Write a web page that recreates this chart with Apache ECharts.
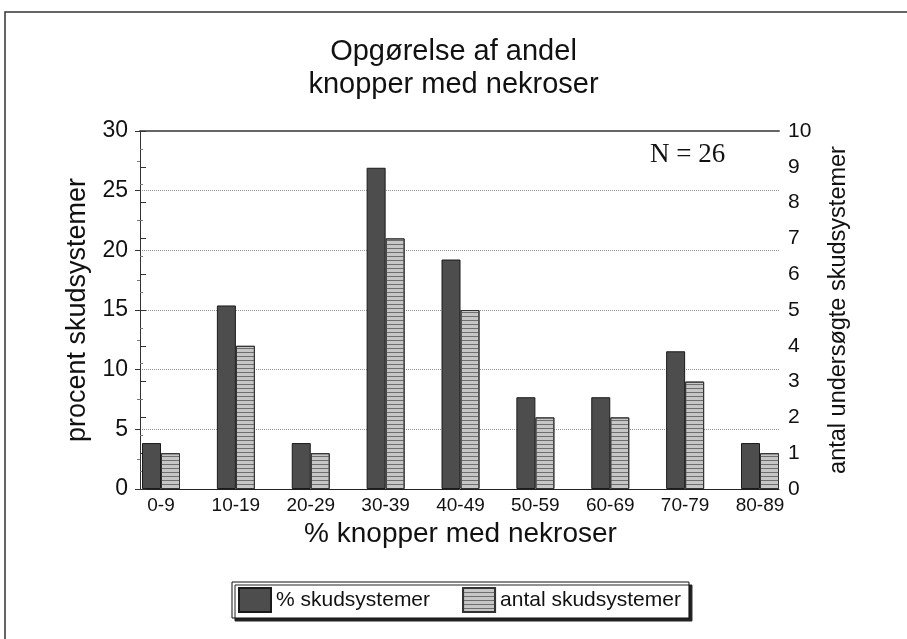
<!DOCTYPE html>
<html lang="da">
<head>
    <meta charset="UTF-8">
    <title>Opgørelse af andel knopper med nekroser</title>
    <style type="text/css">
        body{margin:0;background:#fff;}
        #main{width:907px;height:639px;}
    </style>
</head>
<body>
<div id="main"></div>
<script src="https://cdn.jsdelivr.net/npm/echarts@6/dist/echarts.min.js"></script>
<script>
    // data
    var categories = ['0-9', '10-19', '20-29', '30-39', '40-49', '50-59', '60-69', '70-79', '80-89'];
    var procent = [3.85, 15.38, 3.85, 26.92, 19.23, 7.69, 7.69, 11.54, 3.85];
    var antal = [1, 4, 1, 7, 5, 2, 2, 3, 1];
    var leftTicks = [0, 30, 5];   // min, max, step
    var rightTicks = [0, 10, 1];

    var font = 'Liberation Sans, Arial, sans-serif';
    var myChart = echarts.init(document.getElementById('main'));

    var option = {
        animation: false,
        backgroundColor: '#fff',
        title: {
            left: 'center',
            top: 30,
            text: 'Opgørelse af andel\nknopper med nekroser',
            textStyle: {fontFamily: font, fontWeight: 'normal', fontSize: 29, lineHeight: 33, color: '#111'}
        },
        legend: {
            left: 232,
            top: 582,
            itemWidth: 32,
            itemHeight: 24,
            itemGap: 32,
            padding: [5, 8, 5, 6],
            borderColor: '#111',
            borderWidth: 1,
            backgroundColor: '#fff',
            shadowColor: '#222',
            shadowBlur: 0,
            shadowOffsetX: 3,
            shadowOffsetY: 3,
            icon: 'rect',
            textStyle: {fontFamily: font, fontSize: 21, color: '#111'},
            data: ['% skudsystemer', 'antal skudsystemer']
        },
        graphic: [{
            type: 'rect',
            shape: {x: 5, y: 12, width: 910, height: 640},
            style: {fill: null, stroke: '#333', lineWidth: 1.5},
            silent: true
        }, {
            type: 'text',
            left: 650,
            top: 141,
            style: {text: 'N = 26', font: '27px Liberation Serif, Times New Roman, serif', fill: '#111'}
        }],
        grid: [
            {left: 161, right: 147, top: 131, bottom: 150},
            {left: 140, right: 128, top: 131, bottom: 150}
        ],
        xAxis: [{
            gridIndex: 0,
            type: 'category',
            boundaryGap: false,
            data: categories,
            axisLine: {show: false},
            axisTick: {show: false},
            axisLabel: {interval: 0, fontFamily: font, fontSize: 19, color: '#111', margin: 7},
            name: '% knopper med nekroser',
            nameLocation: 'middle',
            nameGap: 30,
            nameTextStyle: {fontFamily: font, fontSize: 28, color: '#111'}
        }, {
            gridIndex: 1,
            type: 'value',
            min: 0,
            max: 1,
            position: 'bottom',
            axisLine: {show: true, onZero: false, lineStyle: {color: '#222', width: 1}},
            axisTick: {show: false},
            axisLabel: {show: false},
            splitLine: {show: false}
        }, {
            gridIndex: 1,
            type: 'value',
            min: 0,
            max: 1,
            position: 'top',
            axisLine: {show: true, onZero: false, lineStyle: {color: '#666', width: 2}},
            axisTick: {show: false},
            axisLabel: {show: false},
            splitLine: {show: false}
        }],
        yAxis: [{
            gridIndex: 0,
            type: 'value',
            min: leftTicks[0], max: leftTicks[1], interval: leftTicks[2],
            show: false
        }, {
            gridIndex: 0,
            type: 'value',
            min: rightTicks[0], max: rightTicks[1], interval: rightTicks[2],
            show: false
        }, {
            gridIndex: 1,
            type: 'value',
            position: 'left',
            min: leftTicks[0], max: leftTicks[1], interval: leftTicks[2],
            axisLine: {show: true, lineStyle: {color: '#333'}},
            axisTick: {show: true, length: 5, lineStyle: {color: '#333'}},
            minorTick: {show: true, splitNumber: 2, length: 3, lineStyle: {color: '#777'}},
            axisLabel: {fontFamily: font, fontSize: 23, color: '#111', margin: 12},
            splitLine: {show: true, lineStyle: {color: '#999', type: 'dotted', width: 1}},
            name: 'procent skudsystemer',
            nameLocation: 'middle',
            nameGap: 40,
            nameTextStyle: {fontFamily: font, fontSize: 27, color: '#111'}
        }, {
            gridIndex: 1,
            type: 'value',
            position: 'right',
            min: rightTicks[0], max: rightTicks[1], interval: rightTicks[2],
            axisLine: {show: true, lineStyle: {color: '#333'}},
            axisTick: {show: true, length: 6, lineStyle: {color: '#333'}},
            minorTick: {show: true, splitNumber: 2, length: 3, lineStyle: {color: '#777'}},
            axisLabel: {fontFamily: font, fontSize: 21, color: '#111', margin: 9},
            splitLine: {show: false},
            name: 'antal undersøgte skudsystemer',
            nameLocation: 'middle',
            nameGap: 48,
            nameRotate: 90,
            nameTextStyle: {fontFamily: font, fontSize: 23.5, color: '#111'}
        }],
        series: [{
            name: '% skudsystemer',
            type: 'bar',
            xAxisIndex: 0,
            yAxisIndex: 0,
            barWidth: 19,
            barGap: '0%',
            clip: false,
            itemStyle: {color: '#4d4d4d', borderColor: '#1a1a1a', borderWidth: 1},
            data: procent
        }, {
            name: 'antal skudsystemer',
            type: 'bar',
            xAxisIndex: 0,
            yAxisIndex: 1,
            barWidth: 19,
            barGap: '0%',
            clip: false,
            itemStyle: {
                color: '#c6c6c6',
                borderColor: '#333',
                borderWidth: 1,
                decal: {
                    symbol: 'rect',
                    color: '#6e6e6e',
                    dashArrayX: [1, 0],
                    dashArrayY: [1, 3],
                    rotation: 0,
                    symbolSize: 1
                }
            },
            data: antal
        }]
    };

    myChart.setOption(option);
</script>
</body>
</html>
